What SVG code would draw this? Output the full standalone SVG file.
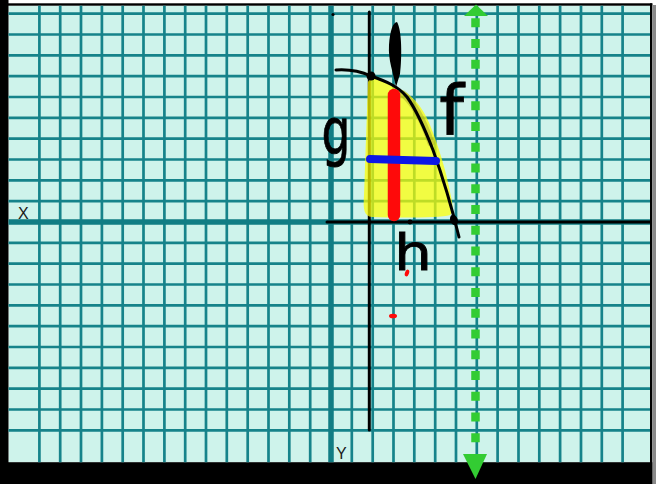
<svg xmlns="http://www.w3.org/2000/svg" width="660" height="484" viewBox="0 0 660 484">
  <defs>
    <style>
      .grid { stroke: #16838a; stroke-width: 2.7; fill: none; }
      .axis { stroke: #117d84; stroke-width: 5.5; fill: none; }
      .ink { stroke: #000; stroke-width: 3; fill: none; stroke-linecap: round; stroke-linejoin: round; }
      .hand { font-family: "DejaVu Sans", "Liberation Sans", sans-serif; fill: #000; stroke: #000; stroke-width: 0.8; }
      .lbl { font-family: "Liberation Sans", "DejaVu Sans", sans-serif; font-size: 16px; fill: #1a1a1a; }
      .green { fill: #33cc33; }
    </style>
  </defs>

  <!-- frame -->
  <g id="frame">
    <rect x="0" y="0" width="660" height="484" fill="#ffffff"/>
    <rect x="8.5" y="5.7" width="641.5" height="456.5" fill="#cef3eb"/>
    <rect x="0" y="0" width="8.5" height="484" fill="#000"/>
    <rect x="0" y="3.3" width="652.3" height="2.4" fill="#000"/>
    <rect x="650" y="3.3" width="2.3" height="480.7" fill="#000"/>
    <rect x="652.3" y="5" width="3.7" height="479" fill="#8a8a8a"/>
    <rect x="0" y="462.2" width="652.3" height="21.8" fill="#000"/>
  </g>

  <!-- grid -->
  <g id="grid">
    <path class="grid" d="M39.4 5.7V462.2M60.2 5.7V462.2M81 5.7V462.2M101.9 5.7V462.2M122.7 5.7V462.2M143.5 5.7V462.2M164.4 5.7V462.2M185.2 5.7V462.2M206 5.7V462.2M226.8 5.7V462.2M247.7 5.7V462.2M268.5 5.7V462.2M289.3 5.7V462.2M310.2 5.7V462.2M351.8 5.7V462.2M372.7 5.7V462.2M393.5 5.7V462.2M414.3 5.7V462.2M435.2 5.7V462.2M456 5.7V462.2M476.8 5.7V462.2M497.6 5.7V462.2M518.5 5.7V462.2M539.3 5.7V462.2M560.1 5.7V462.2M581 5.7V462.2M601.8 5.7V462.2M622.6 5.7V462.2"/>
    <path class="grid" d="M8.5 13.7H650M8.5 34.5H650M8.5 55.3H650M8.5 76.2H650M8.5 97H650M8.5 117.8H650M8.5 138.7H650M8.5 159.5H650M8.5 180.3H650M8.5 201.2H650M8.5 242.8H650M8.5 263.7H650M8.5 284.5H650M8.5 305.3H650M8.5 326.2H650M8.5 347H650M8.5 367.8H650M8.5 388.7H650M8.5 409.5H650M8.5 430.3H650"/>
    <path class="axis" d="M331 5.7V462.2M8.5 222H650"/>
    <text class="lbl" x="18" y="219">X</text>
    <text class="lbl" x="336" y="459">Y</text>
  </g>

  <!-- hand-drawn axes -->
  <g id="hand-axes">
    <path class="ink" d="M369.3 12V430"/>
    <path class="ink" d="M327 222H650"/>
    <circle cx="333" cy="14.5" r="1.6" fill="#000"/>
  </g>

  <!-- shaded region -->
  <g id="region">
    <path d="M368 82C370 77 376 77 382 80L398 88C410 93 422 105 430 125C438 145 446 170 450 192C453 205 454 212 450 215C440 218 400 218 372 217C364 216 363 210 364 195Z" fill="#ffff00" fill-opacity="0.72"/>
    <path d="M403 94C413 102 423 120 431 143" stroke="#9d9d25" stroke-opacity="0.45" stroke-width="7" fill="none" stroke-linecap="round"/>
  </g>

  <!-- curve f -->
  <g id="curve-f">
    <path class="ink" d="M336 70C350 69 362 72 371 76C385 81 398 86 407 97C418 112 426 132 433 150C442 175 450 200 459 237"/>
    <circle cx="371" cy="76" r="4.5" fill="#000"/>
    <ellipse cx="454" cy="220" rx="3.8" ry="5.5" transform="rotate(-20 454 220)" fill="#000"/>
    <circle cx="410" cy="222" r="2.4" fill="#000"/>
    <path d="M397 22C402 30 402 58 400 74L396 87C393 72 388 60 389 45C390 31 393 22 397 22Z" fill="#000"/>
  </g>

  <!-- red and blue strips -->
  <g id="strips">
    <path d="M394 95L394 215" stroke="#fe0a0a" stroke-width="12.5" stroke-linecap="round" fill="none"/>
    <path d="M370 159L436 161" stroke="#0c16e6" stroke-width="8" stroke-linecap="round" fill="none"/>
    <ellipse cx="407" cy="273" rx="2" ry="3.5" transform="rotate(20 407 273)" fill="#fe0a0a"/>
    <ellipse cx="393" cy="316" rx="4" ry="2.3" fill="#fe0a0a"/>
  </g>

  <!-- handwritten labels -->
  <g id="labels">
    <text class="hand" font-size="64" text-anchor="middle" transform="translate(336 154) scale(0.71 1)">g</text>
    <text class="hand" font-size="70" text-anchor="middle" transform="translate(451.5 135)">f</text>
    <text class="hand" font-size="50" text-anchor="middle" transform="translate(413 270) scale(1.2 1)">h</text>
  </g>

  <!-- green dotted arrow -->
  <g id="green-arrow">
    <path d="M475.5 18.3V445" stroke="#33cc33" stroke-width="8.5" stroke-dasharray="9 11.75" fill="none"/>
    <polygon class="green" points="476,4.5 464,16 488,16"/>
    <polygon class="green" points="463,454 487,454 475.5,479"/>
  </g>
</svg>
